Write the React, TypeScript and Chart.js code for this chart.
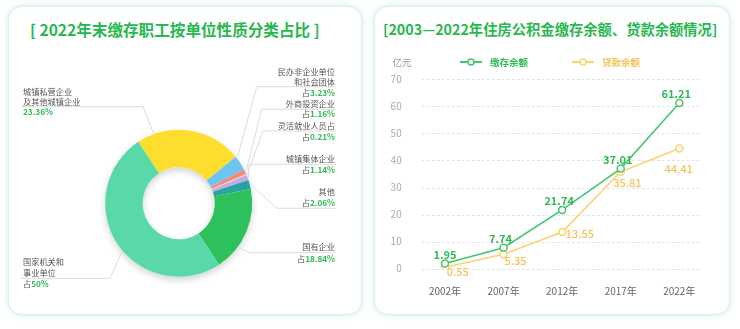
import React, { useEffect, useRef } from 'react';
import { Chart, registerables } from 'chart.js';

Chart.register(...registerables);

const FONT = '"Noto Sans CJK SC", "Noto Sans", sans-serif';

// ---------- Doughnut data ----------
const pieCategories = [
  '城镇私营企业及其他城镇企业',
  '民办非企业单位和社会团体',
  '外商投资企业',
  '灵活就业人员',
  '城镇集体企业',
  '其他',
  '国有企业',
  '国家机关和事业单位',
];
const pieValues = [23.36, 3.23, 1.16, 0.21, 1.14, 2.06, 18.84, 50];
const pieColors = ['#FDDD2E', '#6CC5F0', '#EF8C7C', '#D9D9D9', '#C3ABE2', '#27A3A0', '#2EC05A', '#59D9A7'];

// ---------- Line data ----------
const years = ['2002年', '2007年', '2012年', '2017年', '2022年'];
const depositBalance = [1.95, 7.74, 21.74, 37.01, 61.21];
const loanBalance = [0.55, 5.35, 13.55, 35.81, 44.41];
const seriesNames = ['缴存余额', '贷款余额'];
const yUnit = '亿元';

const GREEN = '#46C56E';
const GREEN_TEXT = '#2DBB55';
const YELLOW = '#FDD16E';
const YELLOW_TEXT = '#F6C35A';

// label layout for the doughnut (positions only, text from categories)
const pieLabelLayout = [
  { side: 'left', lines: ['城镇私营企业', '及其他城镇企业'], prefix: '', ys: [91.7, 101.7, 112.3], lineY: 106.7, elbowX: 143, frac: 0.16 },
  { side: 'right', lines: ['民办非企业单位', '和社会团体'], prefix: '占', ys: [72.3, 82.3, 93], lineY: 86.7, elbowX: 256.7, frac: 0.1 },
  { side: 'right', lines: ['外商投资企业'], prefix: '占', ys: [104, 114.3], lineY: 109.3, elbowX: 261.7, frac: 0.5 },
  { side: 'right', lines: ['灵活就业人员占'], prefix: '占', ys: [125.7, 136.7], lineY: 131, elbowX: 263, frac: 0.5 },
  { side: 'right', lines: ['城镇集体企业'], prefix: '占', ys: [159.3, 170], lineY: 164.3, elbowX: 249, frac: 0.5 },
  { side: 'right', lines: ['其他'], prefix: '占', ys: [191.7, 202.7], lineY: 208.3, elbowX: 276.7, frac: 0.5 },
  { side: 'right', lines: ['国有企业'], prefix: '占', ys: [247.3, 259], lineY: 252.7, elbowX: 250, frac: 0.7 },
  { side: 'left', lines: ['国家机关和', '事业单位'], prefix: '占', ys: [262.3, 273.3, 284.3], lineY: 278.3, elbowX: 110, frac: 0.46 },
];

const yellowLabelOffsets = [
  [12.7, 4.5],
  [12, 7],
  [17.7, 1.5],
  [6.6, 11],
  [-0.7, 20],
];

const pieShadowPlugin = {
  id: 'pieShadow',
  beforeDatasetsDraw(chart: any) {
    const arc = chart.getDatasetMeta(0).data[0];
    if (!arc) return;
    const { x, y, outerRadius, innerRadius } = arc;
    const ctx = chart.ctx;
    ctx.save();
    ctx.shadowColor = 'rgba(0,0,0,0.18)';
    ctx.shadowBlur = 7;
    ctx.shadowOffsetY = 3;
    ctx.beginPath();
    ctx.arc(x, y, outerRadius, 0, Math.PI * 2);
    ctx.arc(x, y, innerRadius, 0, Math.PI * 2, true);
    ctx.fillStyle = '#ffffff';
    ctx.fill('evenodd');
    ctx.restore();
  },
};

const pieLabelPlugin = {
  id: 'pieLabels',
  afterDatasetsDraw(chart: any) {
    const ctx = chart.ctx;
    const meta = chart.getDatasetMeta(0);
    meta.data.forEach((arc: any, i: number) => {
      const L = pieLabelLayout[i];
      if (!L) return;
      const a = arc.startAngle + (arc.endAngle - arc.startAngle) * L.frac;
      const r = arc.outerRadius + 1;
      const px = arc.x + Math.cos(a) * r;
      const py = arc.y + Math.sin(a) * r;
      const endX = L.side === 'right' ? 336 : 21;
      ctx.save();
      ctx.strokeStyle = '#DCDCDC';
      ctx.lineWidth = 1;
      ctx.beginPath();
      ctx.moveTo(px, py);
      ctx.lineTo(L.elbowX, L.lineY);
      ctx.lineTo(endX, L.lineY);
      ctx.stroke();

      ctx.textBaseline = 'middle';
      ctx.font = `8.2px ${FONT}`;
      ctx.fillStyle = '#555555';
      const tx = L.side === 'right' ? 335 : 23;
      ctx.textAlign = L.side === 'right' ? 'right' : 'left';
      L.lines.forEach((t: string, k: number) => {
        ctx.fillText(t, tx, L.ys[k]);
      });
      const pct = `${pieValues[i]}%`;
      const py2 = L.ys[L.lines.length];
      ctx.font = `bold 8.2px ${FONT}`;
      const pw = ctx.measureText(pct).width;
      ctx.font = `8.2px ${FONT}`;
      const prw = L.prefix ? ctx.measureText(L.prefix).width : 0;
      ctx.textAlign = 'left';
      const startX = L.side === 'right' ? tx - pw - prw : tx;
      if (L.prefix) {
        ctx.fillStyle = '#555555';
        ctx.fillText(L.prefix, startX, py2);
      }
      ctx.font = `bold 8.2px ${FONT}`;
      ctx.fillStyle = GREEN_TEXT;
      ctx.fillText(pct, startX + prw, py2);
      ctx.restore();
    });
  },
};

const lineDecorPlugin = {
  id: 'lineDecor',
  beforeDatasetsDraw(chart: any) {
    const ctx = chart.ctx;
    const ys = chart.scales.y;
    const area = chart.chartArea;
    ctx.save();
    ctx.strokeStyle = '#E4E4E4';
    ctx.lineWidth = 1;
    ctx.setLineDash([3, 2]);
    ys.ticks.forEach((t: any) => {
      const y = Math.round(ys.getPixelForValue(t.value)) + 0.5;
      ctx.beginPath();
      ctx.moveTo(area.left + 6, y);
      ctx.lineTo(area.right - 8, y);
      ctx.stroke();
    });
    ctx.restore();
  },
  afterDatasetsDraw(chart: any) {
    const ctx = chart.ctx;
    ctx.save();
    ctx.textAlign = 'center';
    ctx.textBaseline = 'middle';
    // green labels
    const m0 = chart.getDatasetMeta(0);
    ctx.font = `bold 11px ${FONT}`;
    ctx.fillStyle = GREEN_TEXT;
    m0.data.forEach((p: any, i: number) => {
      ctx.fillText(depositBalance[i].toFixed(2), p.x - (i === 0 ? 0 : 3), p.y - 9);
    });
    const m1 = chart.getDatasetMeta(1);
    ctx.font = `500 11px ${FONT}`;
    ctx.fillStyle = YELLOW_TEXT;
    m1.data.forEach((p: any, i: number) => {
      const o = yellowLabelOffsets[i];
      ctx.fillText(loanBalance[i].toFixed(2), p.x + o[0], p.y + o[1]);
    });

    // unit
    ctx.font = `9.5px ${FONT}`;
    ctx.fillStyle = '#999999';
    ctx.fillText(yUnit, 32, 62);

    // legend
    const items = [
      { name: seriesNames[0], color: GREEN, text: GREEN_TEXT, x: 90 },
      { name: seriesNames[1], color: YELLOW, text: YELLOW_TEXT, x: 202 },
    ];
    items.forEach((it) => {
      ctx.strokeStyle = it.color;
      ctx.lineWidth = 2;
      ctx.beginPath();
      ctx.moveTo(it.x, 62);
      ctx.lineTo(it.x + 22, 62);
      ctx.stroke();
      ctx.beginPath();
      ctx.arc(it.x + 11, 62, 3, 0, Math.PI * 2);
      ctx.fillStyle = '#fff';
      ctx.fill();
      ctx.lineWidth = 1.5;
      ctx.stroke();
      ctx.font = `bold 9.5px ${FONT}`;
      ctx.fillStyle = it.text;
      ctx.textAlign = 'left';
      ctx.fillText(it.name, it.x + 30, 62);
    });
    ctx.restore();
  },
};

function DoughnutPanel() {
  const ref = useRef<HTMLCanvasElement>(null);
  useEffect(() => {
    const chart = new Chart(ref.current as HTMLCanvasElement, {
      type: 'doughnut',
      data: {
        labels: pieCategories,
        datasets: [
          {
            data: pieValues,
            backgroundColor: pieColors,
            borderWidth: 0,
          },
        ],
      },
      options: {
        responsive: false,
        animation: false,
        rotation: -33.3,
        cutout: '49%',
        layout: { padding: { left: 105.2, right: 117.8, top: 129.8, bottom: 52.2 } },
        plugins: { legend: { display: false }, tooltip: { enabled: false } },
      },
      plugins: [pieShadowPlugin, pieLabelPlugin],
    } as any);
    return () => chart.destroy();
  }, []);
  return <canvas ref={ref} width={370} height={329} style={{ position: 'absolute', left: 0, top: 0 }} />;
}

function LinePanel() {
  const ref = useRef<HTMLCanvasElement>(null);
  useEffect(() => {
    const chart = new Chart(ref.current as HTMLCanvasElement, {
      type: 'line',
      data: {
        labels: years,
        datasets: [
          {
            label: seriesNames[0],
            data: depositBalance,
            borderColor: GREEN,
            backgroundColor: '#fff',
            pointBackgroundColor: '#fff',
            pointBorderColor: GREEN,
            pointRadius: 3.5,
            pointBorderWidth: 1.5,
            borderWidth: 1.6,
            tension: 0,
          },
          {
            label: seriesNames[1],
            data: loanBalance,
            borderColor: YELLOW,
            backgroundColor: '#fff',
            pointBackgroundColor: '#fff',
            pointBorderColor: YELLOW,
            pointRadius: 3.5,
            pointBorderWidth: 1.5,
            borderWidth: 1.6,
            tension: 0,
          },
        ],
      },
      options: {
        responsive: false,
        animation: false,
        layout: { padding: { top: 79.3, right: 31.4, left: 0, bottom: 0 } },
        plugins: { legend: { display: false }, tooltip: { enabled: false } },
        scales: {
          x: {
            offset: true,
            grid: { display: false, drawTicks: false },
            border: { display: false },
            ticks: { color: '#666666', font: { size: 10, family: FONT }, padding: 17 },
            afterFit(s: any) {
              s.height = 60.3;
            },
          },
          y: {
            min: 0,
            max: 70,
            grid: { display: false, drawTicks: false },
            border: { display: false },
            ticks: { stepSize: 10, color: '#AAAAAA', font: { size: 10, family: FONT }, padding: 14 },
            afterFit(s: any) {
              s.width = 45.7;
            },
          },
        },
      },
      plugins: [lineDecorPlugin],
    } as any);
    return () => chart.destroy();
  }, []);
  return <canvas ref={ref} width={370} height={329} style={{ position: 'absolute', left: 370, top: 0 }} />;
}

const panelStyle: React.CSSProperties = {
  position: 'absolute',
  top: 6,
  height: 307,
  border: '1px solid #DDF4E4',
  borderRadius: 14,
  boxShadow: '0 0 5px rgba(90,210,130,0.35)',
  background: '#fff',
};

const titleStyle: React.CSSProperties = {
  position: 'absolute',
  top: 19,
  height: 20,
  lineHeight: '20px',
  fontFamily: FONT,
  fontWeight: 'bold',
  color: '#27B84F',
  whiteSpace: 'nowrap',
};

export default function App() {
  return (
    <div
      style={{
        position: 'absolute',
        left: 0,
        top: 0,
        width: 740,
        height: 329,
        background: '#fff',
        overflow: 'hidden',
        fontFamily: FONT,
      }}
    >
      <div style={{ ...panelStyle, left: 8, width: 352 }} />
      <div style={{ ...panelStyle, left: 374, width: 354 }} />
      <div style={{ ...titleStyle, left: 30, fontSize: 15.6 }}>[ 2022年末缴存职工按单位性质分类占比 ]</div>
      <div style={{ ...titleStyle, left: 383, fontSize: 14.3 }}>[2003—2022年住房公积金缴存余额、贷款余额情况]</div>
      <DoughnutPanel />
      <LinePanel />
    </div>
  );
}
